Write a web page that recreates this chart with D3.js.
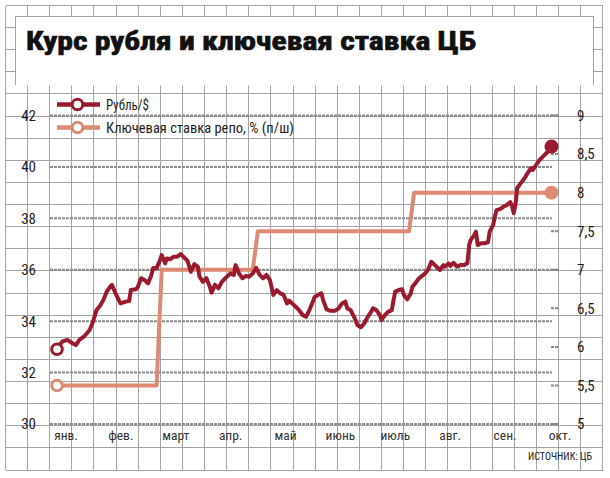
<!DOCTYPE html>
<html><head><meta charset="utf-8">
<script src="https://cdn.jsdelivr.net/npm/d3@7"></script>
<style>
body{margin:0;background:#fff}
svg{display:block}
text{font-family:"Liberation Sans Narrow","Roboto Condensed","DejaVu Sans Condensed","Liberation Sans",sans-serif;fill:#1e1e1e}
</style>
</head><body><svg id="c" width="610" height="478"></svg>
<script>
const title = "Курс рубля и ключевая ставка ЦБ";
const months = ["янв.","фев.","март","апр.","май","июнь","июль","авг.","сен.","окт."];
const leftTicks = [30,32,34,36,38,40,42];
const rightTicks = [5,5.5,6,6.5,7,7.5,8,8.5,9];
const legendLabels = ["Рубль/$","Ключевая ставка репо, % (п/ш)"];
const sourceText = "ИСТОЧНИК: ЦБ";
// days since 1 Jan 2014
const rubDays = [0,3,6,9,11,13,16,19,21,23,25,27,29,31,32,34,36,37,40,42,43,46,47,49,51,53,55,56,58,60,61,63,64,66,68,70,72,74,76,78,80,82,83,85,87,89,90,92,94,96,97,99,101,103,104,106,108,110,112,114,116,118,120,122,124,126,128,130,132,134,135,137,139,141,143,145,147,149,150,152,154,155,157,159,162,164,166,168,169,171,173,175,177,179,181,183,184,186,188,189,191,193,195,196,197,199,201,202,204,206,207,209,210,212,214,216,218,219,221,223,225,226,228,229,231,233,235,237,239,240,241,243,244,245,247,249,251,252,254,255,256,258,260,262,264,265,266,267,268,270,272,274,276,277,279,281,283,285,287,288];
const rubValues = [32.91,33.20,33.27,33.14,33.07,33.27,33.42,33.66,33.98,34.43,34.59,34.82,35.15,35.34,35.41,35.10,34.82,34.69,34.76,34.78,35.21,35.24,35.32,35.67,35.60,35.47,35.80,36.07,36.06,36.38,36.57,36.25,36.44,36.41,36.51,36.51,36.61,36.48,36.35,35.92,36.22,36.12,35.73,35.53,35.67,35.34,35.11,35.41,35.28,35.53,35.60,35.73,35.86,35.80,36.18,35.86,35.67,35.76,35.73,35.86,36.07,35.80,35.67,35.80,35.60,35.02,35.21,35.08,35.02,34.69,34.80,34.69,34.56,34.43,34.24,34.17,34.43,34.76,34.93,35.02,35.08,34.82,34.46,34.41,34.41,34.50,34.69,34.76,34.50,34.43,34.17,33.85,33.76,33.92,34.17,34.37,34.50,34.43,34.24,34.05,34.24,34.37,34.43,34.82,35.15,35.21,35.24,35.02,34.85,35.08,35.34,35.50,35.60,35.73,35.83,35.99,36.31,36.25,36.12,35.99,36.18,36.12,36.25,36.15,36.27,36.12,36.18,36.18,36.25,36.96,37.16,37.35,37.48,36.96,37.03,37.03,37.07,37.48,37.74,38.06,38.32,38.36,38.45,38.52,38.63,38.48,38.20,38.52,39.17,39.36,39.53,39.75,39.95,39.88,40.07,40.27,40.40,40.53,40.66,40.79];
const rateDays = [0,58,61,114,117,205,208,288];
const rateValues = [5.5,5.5,7,7,7.5,7.5,8,8];

const RUB = "#9a1a2f", RATE = "#dd8a73", GRID = "#a3a3a3", DOT = "#8a8a8a";
const svg = d3.select("#c");
const start = new Date(2014,0,1);
const toDate = d => d3.timeDay.offset(start, d);
const x = d3.scaleTime().domain([start, toDate(288)]).range([57, 551.5]);
const yL = d3.scaleLinear().domain([30,42]).range([424,115.5]);
const yR = d3.scaleLinear().domain([5,9]).range([424,115.5]);

// background grid
const step = 22.12;
const gx = d3.range(0,28).map(k => 5.5 + k*step);
const gy = d3.range(0,22).map(k => 5.5 + k*step);
const g = svg.append("g").attr("stroke", GRID).attr("stroke-width",1).attr("shape-rendering","crispEdges");
g.selectAll(".v").data(gx).join("line").attr("x1",d=>d).attr("x2",d=>d).attr("y1",5.5).attr("y2",gy[gy.length-1]);
g.selectAll(".h").data(gy).join("line").attr("y1",d=>d).attr("y2",d=>d).attr("x1",5.5).attr("x2",gx[gx.length-1]);

// title box
svg.append("rect").attr("x",15.5).attr("y",16.5).attr("width",578).attr("height",69).attr("fill","#fff");
svg.append("path").attr("d","M15.5,85V16.5H593.5V85").attr("fill","none").attr("stroke",GRID).attr("shape-rendering","crispEdges");
svg.append("text").text(title).attr("x",26).attr("y",50).attr("font-size",25).attr("font-weight",700)
  .attr("textLength",450).attr("lengthAdjust","spacingAndGlyphs")
  .style("fill","#111").style("stroke","#111").style("stroke-width",0.7);

// dotted grid lines at left ticks
svg.append("g").selectAll("line").data(leftTicks).join("line")
  .attr("x1",50).attr("x2",d => (d===30||d===36||d===42)?559:552)
  .attr("y1",d=>yL(d)).attr("y2",d=>yL(d))
  .attr("stroke",DOT).attr("stroke-width",2).attr("stroke-dasharray","3,1");
// right tick marks
svg.append("g").selectAll("line").data(rightTicks).join("line")
  .attr("x1",551).attr("x2",559).attr("y1",d=>yR(d)).attr("y2",d=>yR(d))
  .attr("stroke",DOT).attr("stroke-width",2).attr("stroke-dasharray","3,1");

// axis labels
svg.append("g").selectAll("text").data(leftTicks).join("text")
  .attr("x",36).attr("y",d=>yL(d)).attr("dy","0.36em").attr("text-anchor","end").attr("font-size",15)
  .text(d=>d);
const fmtR = d => String(d).replace(".",",");
svg.append("g").selectAll("text").data(rightTicks).join("text")
  .attr("x",577).attr("y",d=>yR(d)).attr("dy","0.36em").attr("font-size",15)
  .text(fmtR);

// month labels
const xm = d3.scalePoint().domain(months).range([66,560]);
svg.append("g").selectAll("text").data(months).join("text")
  .attr("x",d=>xm(d)).attr("y",440).attr("text-anchor","middle").attr("font-size",13.5).style("fill","#333")
  .text(d=>d);

// source
svg.append("text").text(sourceText).attr("x",528).attr("y",460).attr("font-size",10.5)
  .attr("textLength",64).attr("lengthAdjust","spacingAndGlyphs").style("fill","#222");

// series
const rub = rubDays.map((d,i)=>({date:toDate(d), v:rubValues[i]}));
const rate = rateDays.map((d,i)=>({date:toDate(d), v:rateValues[i]}));
svg.append("path").datum(rate).attr("fill","none").attr("stroke",RATE).attr("stroke-width",4).attr("stroke-linejoin","round")
  .attr("d", d3.line().x(d=>x(d.date)).y(d=>yR(d.v)));
svg.append("path").datum(rub).attr("fill","none").attr("stroke",RUB).attr("stroke-width",4).attr("stroke-linejoin","round")
  .attr("d", d3.line().x(d=>x(d.date)).y(d=>yL(d.v)));

// markers
function hollow(cx,cy,c){ svg.append("circle").attr("cx",cx).attr("cy",cy).attr("r",5.3).attr("fill","#fff").attr("stroke",c).attr("stroke-width",3); }
function filled(cx,cy,c){ svg.append("circle").attr("cx",cx).attr("cy",cy).attr("r",7).attr("fill",c); }
hollow(x(rub[0].date), yL(rub[0].v), RUB);
hollow(x(rate[0].date), yR(rate[0].v), RATE);
filled(x(rub[rub.length-1].date), yL(rub[rub.length-1].v), RUB);
filled(x(rate[rate.length-1].date), yR(rate[rate.length-1].v), RATE);

// legend
const legColors = [RUB, RATE];
const legY = [104.5, 127.5];
const legW = [43, 188];
legendLabels.forEach((t,i)=>{
  svg.append("line").attr("x1",57).attr("x2",100).attr("y1",legY[i]).attr("y2",legY[i]).attr("stroke",legColors[i]).attr("stroke-width",4.5);
  hollow(77.5, legY[i], legColors[i]);
  svg.append("text").text(t).attr("x",106).attr("y",legY[i]+5.5).attr("font-size",14.5)
    .attr("textLength",legW[i]).attr("lengthAdjust","spacingAndGlyphs");
});
</script>
</body></html>
